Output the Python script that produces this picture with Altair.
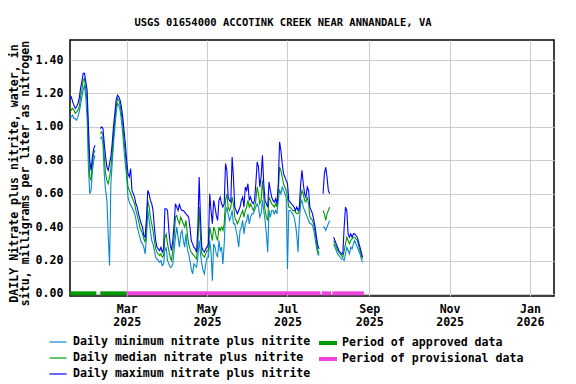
import altair as alt
import pandas as pd

START = "2025-01-17"

# Daily values from 2025-01-17 through 2025-08-27 (None = no data)
max_vals = [
    1.18, 1.18, 1.15, 1.13, 1.11, 1.12, 1.14, 1.17, 1.23, 1.27, 1.32, 1.32, 1.27, 1.22, 1.00, 0.80, 0.74, 0.82, 0.87, 0.89,
    None, None, None,
    0.99, 1.00, 0.99, 0.90, 0.82, 0.76, 0.74, 0.78, 0.82, 0.90, 1.00, 1.08, 1.16, 1.19, 1.18, 1.16, 1.12, 1.06, 0.98, 0.90, 0.80,
    0.72, 0.70, 0.75, 0.62, 0.60, 0.58, 0.54, 0.52, 0.48, 0.45,
    0.42, 0.40, 0.35, 0.34, 0.45, 0.62, 0.60, 0.56, 0.54, 0.50,
    0.40, 0.32, 0.28, 0.27, 0.26, 0.28, 0.25, 0.27, 0.51, 0.51,
    0.50, 0.38, 0.30, 0.26, 0.32, 0.42, 0.54, 0.52, 0.50, 0.54,
    0.51, 0.50, 0.50, 0.49, 0.48, 0.47, 0.46, 0.40, 0.32, 0.30,
    0.28, 0.27, 0.25, 0.40, 0.70, 0.45, 0.28, 0.26, 0.25, 0.27,
    0.28, 0.30, 0.60, 0.50, 0.42, 0.56, 0.52, 0.47, 0.44, 0.56,
    0.58, 0.54, 0.52, 0.54, 0.78, 0.74, 0.58, 0.56, 0.55, 0.82,
    0.70, 0.52, 0.50, 0.48, 0.50, 0.52, 0.56, 0.58, 0.52, 0.64,
    0.62, 0.66, 0.56, 0.58, 0.55, 0.54, 0.56, 0.66, 0.79, 0.76,
    0.64, 0.70, 0.83, 0.66, 0.56, 0.54, 0.52, 0.67, 0.62, 0.58,
    0.56, 0.55, 0.57, 0.54, 0.66, 0.91, 0.86, 0.78, 0.72, 0.70,
    0.68, 0.66, 0.56, 0.55, 0.54, 0.53, 0.52, 0.50, 0.52, 0.50,
    0.52, 0.66, 0.74, 0.66, 0.60, 0.58, 0.64, 0.62, 0.52, 0.50,
    0.48, 0.44, 0.40, 0.34, 0.29, 0.27,
    None, None,
    0.60, 0.72, 0.76, 0.70, 0.62, 0.60,
    None, None,
    0.34, 0.32, 0.30, 0.28, 0.26, 0.25, 0.24, 0.24, 0.40, 0.52, 0.50, 0.36, 0.34, 0.36, 0.34, 0.36, 0.36, 0.35, 0.34, 0.31, 0.28, 0.25, 0.22,
]

med_vals = [
    1.12, 1.10, 1.11, 1.10, 1.08, 1.09, 1.10, 1.12, 1.18, 1.22, 1.28, 1.29, 1.22, 1.15, 0.90, 0.70, 0.68, 0.78, 0.84, 0.86,
    None, None, None,
    0.96, 0.97, 0.95, 0.82, 0.72, 0.68, 0.66, 0.70, 0.75, 0.84, 0.95, 1.04, 1.12, 1.17, 1.16, 1.13, 1.08, 1.01, 0.92, 0.84, 0.74,
    0.64, 0.62, 0.60, 0.58, 0.56, 0.54, 0.50, 0.47, 0.44, 0.40,
    0.38, 0.36, 0.33, 0.31, 0.40, 0.56, 0.52, 0.46, 0.42, 0.38,
    0.32, 0.27, 0.25, 0.24, 0.23, 0.24, 0.22, 0.23, 0.34, 0.36,
    0.30, 0.26, 0.22, 0.20, 0.26, 0.34, 0.46, 0.47, 0.44, 0.42,
    0.46, 0.44, 0.42, 0.40, 0.44, 0.36, 0.30, 0.27, 0.25, 0.24,
    0.23, 0.22, 0.21, 0.30, 0.52, 0.34, 0.24, 0.23, 0.22, 0.24,
    0.26, 0.26, 0.40, 0.36, 0.32, 0.40, 0.38, 0.34, 0.32, 0.40,
    0.38, 0.40, 0.38, 0.42, 0.56, 0.60, 0.52, 0.50, 0.52, 0.58,
    0.54, 0.46, 0.44, 0.42, 0.44, 0.46, 0.48, 0.50, 0.46, 0.50,
    0.52, 0.56, 0.52, 0.54, 0.52, 0.50, 0.52, 0.56, 0.64, 0.60,
    0.54, 0.56, 0.68, 0.58, 0.50, 0.46, 0.44, 0.58, 0.56, 0.54,
    0.53, 0.52, 0.54, 0.52, 0.60, 0.76, 0.74, 0.70, 0.66, 0.64,
    0.62, 0.58, 0.52, 0.52, 0.51, 0.50, 0.50, 0.49, 0.48, 0.48,
    0.50, 0.58, 0.62, 0.60, 0.56, 0.55, 0.58, 0.54, 0.46, 0.45,
    0.44, 0.41, 0.37, 0.31, 0.26, 0.24,
    None, None,
    0.50, 0.48, 0.44, 0.48, 0.50, 0.52,
    None, None,
    0.32, 0.30, 0.28, 0.26, 0.25, 0.24, 0.23, 0.22, 0.26, 0.30, 0.34, 0.32, 0.30, 0.32, 0.33, 0.34, 0.34, 0.33, 0.32, 0.29, 0.26, 0.23, 0.21,
]

min_vals = [
    1.06, 1.06, 1.07, 1.05, 1.05, 1.04, 1.06, 1.09, 1.13, 1.18, 1.22, 1.25, 1.18, 1.05, 0.75, 0.60, 0.62, 0.74, 0.80, 0.83,
    None, None, None,
    0.93, 0.94, 0.90, 0.72, 0.62, 0.56, 0.35, 0.17, 0.66, 0.78, 0.90, 0.99, 1.08, 1.14, 1.13, 1.10, 1.04, 0.96, 0.86, 0.78, 0.70,
    0.58, 0.55, 0.53, 0.52, 0.50, 0.48, 0.45, 0.40, 0.37, 0.34,
    0.31, 0.30, 0.28, 0.24, 0.34, 0.50, 0.44, 0.38, 0.32, 0.30,
    0.26, 0.22, 0.21, 0.20, 0.19, 0.20, 0.17, 0.18, 0.26, 0.28,
    0.20, 0.18, 0.16, 0.16, 0.18, 0.26, 0.34, 0.40, 0.34, 0.28,
    0.36, 0.38, 0.32, 0.28, 0.36, 0.27, 0.24, 0.20, 0.15, 0.12,
    0.18, 0.17, 0.16, 0.22, 0.32, 0.24, 0.18, 0.14, 0.12, 0.18,
    0.22, 0.22, 0.32, 0.25, 0.08, 0.30, 0.28, 0.24, 0.22, 0.32,
    0.26, 0.28, 0.18, 0.30, 0.48, 0.52, 0.48, 0.44, 0.46, 0.50,
    0.42, 0.42, 0.38, 0.34, 0.28, 0.38, 0.40, 0.44, 0.36, 0.42,
    0.44, 0.48, 0.42, 0.46, 0.48, 0.48, 0.50, 0.52, 0.54, 0.52,
    0.46, 0.48, 0.56, 0.50, 0.44, 0.36, 0.25, 0.50, 0.46, 0.50,
    0.50, 0.48, 0.50, 0.48, 0.56, 0.62, 0.60, 0.64, 0.62, 0.60,
    0.58, 0.15, 0.50, 0.50, 0.49, 0.48, 0.46, 0.42, 0.36, 0.25,
    0.44, 0.54, 0.56, 0.52, 0.50, 0.48, 0.46, 0.44, 0.42, 0.42,
    0.41, 0.38, 0.33, 0.28, 0.24, 0.23,
    None, None,
    0.40, 0.40, 0.38, 0.40, 0.42, 0.44,
    None, None,
    0.30, 0.28, 0.26, 0.24, 0.23, 0.22, 0.21, 0.21, 0.20, 0.24, 0.28, 0.26, 0.24, 0.28, 0.27, 0.30, 0.32, 0.30, 0.28, 0.26, 0.24, 0.21, 0.19,
]

series_names = [
    "Daily minimum nitrate plus nitrite",
    "Daily median nitrate plus nitrite",
    "Daily maximum nitrate plus nitrite",
]
series_colors = ["#0888d0", "#009a00", "#0000ff"]

period_names = ["Period of approved data", "Period of provisional data"]
period_colors = ["#009a00", "#ee44dd"]
period_start = ["2025-01-17", "2025-02-09", "2025-03-01", "2025-07-27", "2025-08-04"]
period_end = ["2025-02-06", "2025-03-01", "2025-07-26", "2025-08-03", "2025-08-28"]
period_kind = [0, 0, 1, 1, 1]

y_ticks = [0.0, 0.2, 0.4, 0.6, 0.8, 1.0, 1.2, 1.4]
title_text = "USGS 01654000 ACCOTINK CREEK NEAR ANNANDALE, VA"
y_title = ["DAILY Nitrate plus nitrite, water, in", "situ, milligrams per liter as nitrogen"]

FONT = "DejaVu Sans Mono"

# ---- build tables ----
dates = pd.date_range(START, periods=len(max_vals), freq="D")
rows = []
for name, vals in zip(series_names, [min_vals, med_vals, max_vals]):
    seg = 0
    prev_none = False
    for d, v in zip(dates, vals):
        if v is None:
            if not prev_none:
                seg += 1
            prev_none = True
            continue
        prev_none = False
        rows.append({"date": d.strftime("%Y-%m-%d"), "value": v,
                     "series": name, "seg": f"{name}-{seg}"})
df = pd.DataFrame(rows)

pdf = pd.DataFrame({
    "start": period_start,
    "end": period_end,
    "kind": [period_names[k] for k in period_kind],
})

x_scale = alt.Scale(
    type="utc",
    domain=[alt.DateTime(year=2025, month=1, date=17, utc=True),
            alt.DateTime(year=2026, month=1, date=19, hours=5, utc=True)],
)
x_ticks = [alt.DateTime(year=2025, month=m, date=1, utc=True) for m in (3, 5, 7, 9, 11)] + \
          [alt.DateTime(year=2026, month=1, date=1, utc=True)]

x_axis = alt.Axis(
    values=x_ticks,
    labelExpr="[utcFormat(datum.value, '%b'), utcFormat(datum.value, '%Y')]",
    title=None,
    grid=True,
    ticks=False,
    domain=False,
    labelPadding=7,
    labelLineHeight=13,
    labelFlush=False,
    labelOverlap=False,
)

y_scale = alt.Scale(domain=[-0.012, 1.52], nice=False, zero=False)


def make_y_axis():
    return alt.Axis(
        values=y_ticks,
        format=".2f",
        title=y_title,
        grid=True,
        ticks=False,
        domain=False,
        labelPadding=7,
        labelOverlap=False,
        labelFlush=False,
        labelBound=False,
        titleAngle=270,
        titleAlign="center",
        titleBaseline="top",
        titleX=-62,
        titleY=133,
        titleLineHeight=11,
    )


lines = alt.Chart(df).mark_line(strokeWidth=1.1, clip=True).encode(
    x=alt.X("date:T", scale=x_scale, axis=x_axis),
    y=alt.Y("value:Q", scale=y_scale, axis=make_y_axis()),
    color=alt.Color(
        "series:N",
        scale=alt.Scale(domain=series_names, range=series_colors),
        legend=alt.Legend(
            title=None, orient="none", legendX=-18, legendY=296,
            direction="vertical", symbolType="M-1.7,0H1.7", symbolSize=100,
            symbolStrokeWidth=1.2, rowPadding=4, labelOffset=9, padding=0,
        ),
    ),
    detail="seg:N",
)

periods = alt.Chart(pdf).mark_rule(strokeWidth=4, strokeCap="butt").encode(
    x=alt.X("start:T", scale=x_scale, axis=x_axis),
    x2="end:T",
    y=alt.YDatum(0.004, type="quantitative", scale=y_scale, axis=make_y_axis()),
    color=alt.Color(
        "kind:N",
        scale=alt.Scale(domain=period_names, range=period_colors),
        legend=alt.Legend(
            title=None, orient="none", legendX=252, legendY=297,
            direction="vertical", symbolType="M-2.25,0H2.25", symbolSize=64,
            symbolStrokeWidth=4, rowPadding=0, labelOffset=8, padding=0,
        ),
    ),
)

chart = alt.layer(lines, periods).resolve_scale(color="independent").properties(
    width=484,
    height=256,
    autosize=alt.AutoSizeParams(type="none"),
    padding={"left": 62, "top": 32, "right": 14, "bottom": 88},
    title=alt.Title(title_text, font=FONT, fontSize=10.5, fontWeight="bold",
                    anchor="middle", frame="group", dx=-29, offset=12, color="black"),
).configure_view(
    stroke="black", strokeWidth=1.5,
).configure_axis(
    labelFont=FONT, labelFontSize=11.6, labelFontWeight="bold", labelColor="black",
    titleFont=FONT, titleFontSize=11.6, titleFontWeight="bold", titleColor="black",
    gridColor="#cccccc", gridWidth=1,
).configure_axisY(
    labelOverlap=False,
).configure_legend(
    labelFont=FONT, labelFontSize=11.6, labelFontWeight="bold", labelColor="black",
    labelLimit=400,
)

chart.save("out.html", embed_options={"renderer": "svg", "actions": False})
